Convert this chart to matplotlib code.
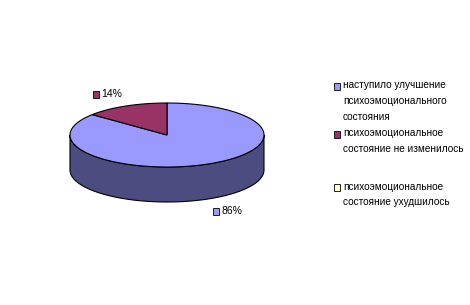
import numpy as np
import matplotlib.pyplot as plt
from matplotlib.patches import Polygon, Rectangle

labels = ['наступило улучшение\nпсихоэмоционального\nсостояния',
          'психоэмоциональное\nсостояние не изменилось',
          'психоэмоциональное\nсостояние ухудшилось']
values = [86, 14, 0]
top_colors = ['#9999FF', '#993366', '#FFFFCC']
side_colors = ['#4C4C80', '#4D1A33', '#808066']

plt.rcParams['font.family'] = ['Liberation Sans', 'DejaVu Sans']

fig = plt.figure(figsize=(4.70, 3.05), dpi=100)
ax = fig.add_axes([0, 0, 1, 1])
ax.set_xlim(0, 470)
ax.set_ylim(305, 0)
ax.axis('off')

cx, cy, rx, ry, depth = 167, 135, 97, 32, 35


def pt(a, dy=0):
    return cx + rx * np.cos(a), cy - ry * np.sin(a) + dy


# slices go clockwise from 12 o'clock: first slice ends at 90 - 86%*360
total = sum(values)
start = np.pi / 2
spans = []
for v in values:
    sweep = 2 * np.pi * v / total
    spans.append((start - sweep, start))
    start -= sweep

# side walls (front half: angles between pi and 2pi)
for (a0, a1), sc in zip(spans, side_colors):
    for shift in (-2 * np.pi, 0, 2 * np.pi):
        lo = max(a0 + shift, np.pi)
        hi = min(a1 + shift, 2 * np.pi)
        if hi > lo:
            t = np.linspace(lo, hi, 100)
            xs, ys = pt(t)
            xb, yb = pt(t[::-1], depth)
            poly = np.column_stack([np.r_[xs, xb], np.r_[ys, yb]])
            ax.add_patch(Polygon(poly, closed=True, facecolor=sc,
                                 edgecolor='black', linewidth=0.8))

# top faces
for (a0, a1), tc, v in zip(spans, top_colors, values):
    if v == 0:
        continue
    t = np.linspace(a0, a1, 200)
    xs, ys = pt(t)
    poly = np.column_stack([np.r_[cx, xs], np.r_[cy, ys]])
    ax.add_patch(Polygon(poly, closed=True, facecolor=tc,
                         edgecolor='black', linewidth=0.8))

# data labels
lab_pos = [(213, 211), (93, 94)]
for (lx, ly), v, tc in zip(lab_pos, values, top_colors):
    ax.add_patch(Rectangle((lx, ly - 3.5), 6, 7, facecolor=tc,
                           edgecolor='black', linewidth=0.6))
    ax.text(lx + 8, ly, f'{v}%', fontsize=7.5, va='center', ha='left')

# legend
leg_y = [86, 134, 187]
for y, lab, tc in zip(leg_y, labels, top_colors):
    ax.add_patch(Rectangle((334, y - 3.5), 6, 7, facecolor=tc,
                           edgecolor='black', linewidth=0.6))
    ax.text(343, y - 5.5, lab, fontsize=7.2, va='top', ha='left',
            linespacing=1.7)

fig.savefig('out.png', dpi=100)
